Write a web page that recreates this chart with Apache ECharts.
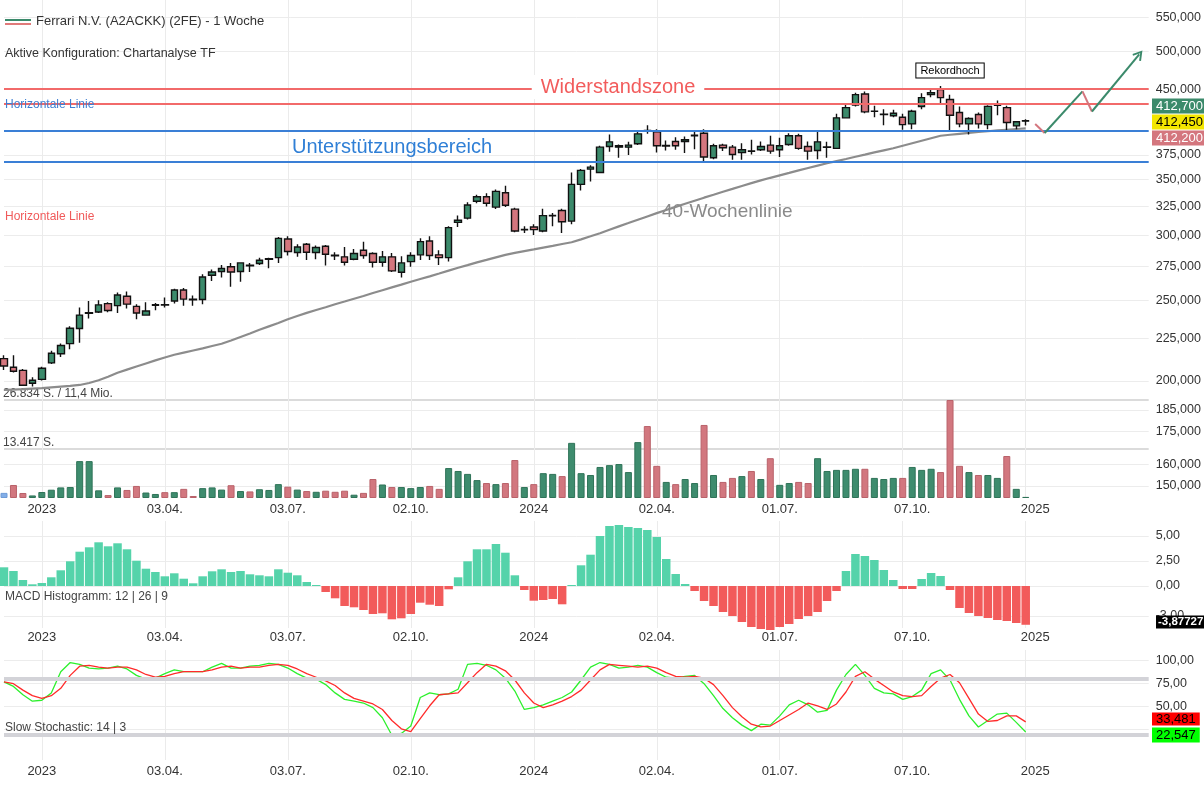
<!DOCTYPE html>
<html><head><meta charset="utf-8">
<script src="https://cdn.jsdelivr.net/npm/echarts@6/dist/echarts.min.js"></script>
<style>html,body{margin:0;padding:0;background:#fff}#c{width:1204px;height:785px}</style>
</head><body><div id="c"></div><script>
const weeks = [
'2022-12-05','2022-12-12','2022-12-19','2022-12-26',
'2023-01-02','2023-01-09','2023-01-16','2023-01-23','2023-01-30','2023-02-06','2023-02-13','2023-02-20','2023-02-27',
'2023-03-06','2023-03-13','2023-03-20','2023-03-27','2023-04-03','2023-04-10','2023-04-17','2023-04-24','2023-05-01',
'2023-05-08','2023-05-15','2023-05-22','2023-05-29','2023-06-05','2023-06-12','2023-06-19','2023-06-26','2023-07-03',
'2023-07-10','2023-07-17','2023-07-24','2023-07-31','2023-08-07','2023-08-14','2023-08-21','2023-08-28','2023-09-04',
'2023-09-11','2023-09-18','2023-09-25','2023-10-02','2023-10-09','2023-10-16','2023-10-23','2023-10-30','2023-11-06',
'2023-11-13','2023-11-20','2023-11-27','2023-12-04','2023-12-11','2023-12-18','2023-12-25',
'2024-01-01','2024-01-08','2024-01-15','2024-01-22','2024-01-29','2024-02-05','2024-02-12','2024-02-19','2024-02-26',
'2024-03-04','2024-03-11','2024-03-18','2024-03-25','2024-04-01','2024-04-08','2024-04-15','2024-04-22','2024-04-29',
'2024-05-06','2024-05-13','2024-05-20','2024-05-27','2024-06-03','2024-06-10','2024-06-17','2024-06-24','2024-07-01',
'2024-07-08','2024-07-15','2024-07-22','2024-07-29','2024-08-05','2024-08-12','2024-08-19','2024-08-26','2024-09-02',
'2024-09-09','2024-09-16','2024-09-23','2024-09-30','2024-10-07','2024-10-14','2024-10-21','2024-10-28','2024-11-04',
'2024-11-11','2024-11-18','2024-11-25','2024-12-02','2024-12-09','2024-12-16','2024-12-23','2024-12-30',
'2025-01-06','2025-01-13','2025-01-20','2025-01-27','2025-02-03','2025-02-10','2025-02-17','2025-02-24','2025-03-03',
'2025-03-10','2025-03-17','2025-03-24','2025-03-31'];

const open = [212800,207800,206000,198700,200900,210300,215700,221900,231400,241400,242300,248000,246600,253100,246100,240200,246800,247300,249800,257500,251000,250800,268300,271100,274700,271100,275900,277200,280500,281800,296800,285800,292500,285800,290900,283700,282400,280500,287600,285000,278200,282400,270600,278700,284000,295100,284000,281800,310800,314500,329600,333800,324300,337500,322500,304400,306900,303400,316500,321300,311900,345400,360400,357100,383800,383100,383100,386700,401400,399700,384400,389200,389200,395500,398200,372000,385300,383100,377500,379100,380400,385300,380400,386000,395400,383800,379600,382900,381800,415600,430600,444100,423100,419300,418000,416300,408700,428900,443300,449700,437300,421800,408700,419500,407900,430300,427600,406400,411800];
const high = [214800,214800,206700,202100,208100,217500,221900,232900,245300,249800,250300,248900,255800,256400,247600,248900,248400,252200,258500,259000,253600,269000,272700,276100,277700,278200,277700,281800,281800,298400,299000,292500,293500,291500,291900,286000,290300,288700,294600,286000,287100,285500,282900,286000,297300,299000,287600,307400,316700,328600,335700,337000,340600,344200,323700,307400,309200,322700,319000,322700,357100,360400,364400,384600,396700,386000,388800,399700,407200,402600,390300,393900,394700,400000,402600,386700,386700,385300,387400,391100,389200,395400,393200,398200,397500,389200,399700,388800,420300,433200,445700,447300,429800,425800,425000,420300,425000,444900,449000,454000,443300,428900,416300,421800,430500,436000,429800,411900,414000];
const low = [206200,204700,197200,196900,200200,209600,213800,218500,222500,237900,241600,242100,241600,244700,237400,239800,243500,245300,248000,246600,246600,247600,264100,266600,259800,263600,270800,276100,273600,277700,283500,282400,280000,280500,275700,280000,275700,279700,281000,274200,274700,270800,266600,274700,280000,280000,276100,278700,306900,313200,327800,324800,322500,324300,302300,301700,300000,302300,307400,301700,309200,339700,348300,356500,378200,372000,374700,385300,397500,377500,379600,380400,376800,381000,368300,370500,378900,369900,369900,375400,378900,376100,372700,384600,380400,369900,370500,372000,381100,414800,428900,421000,416300,407200,416300,402000,402600,425800,440100,432900,401200,404900,396700,403400,402600,418600,399700,402600,407000];
const close = [208500,205500,197600,200400,207200,216000,220700,231600,240200,241800,247100,243300,254000,247600,241600,242900,247200,247000,257500,251100,250600,267000,270800,273400,270800,277700,275500,279700,280900,297300,286600,290300,286000,289800,284400,283300,278200,285000,283500,278200,282400,271600,277700,283500,294600,283500,281800,306300,312600,326200,333800,327800,338800,326000,303400,304800,304600,316700,316900,311400,345400,359100,362400,383100,388800,384600,385300,397500,401000,384600,384800,384600,391100,395900,372700,384600,382500,375400,380400,378700,383800,378900,384600,395400,381800,378900,388800,383300,415600,427600,443300,422600,423500,419700,421000,407900,423300,439700,445700,439700,418600,408700,414800,408700,429100,430700,410200,411100,412450];
const sma40 = [195100,195300,195500,195800,196100,196500,196900,197300,197800,198900,200400,202400,204600,206400,208200,210000,211800,213500,215100,216400,217700,219000,220400,221800,223800,226000,228200,230600,232800,235000,237400,239600,241700,243600,245500,247500,249400,251400,253300,255400,257400,259400,261400,263500,265500,267500,269600,271800,274000,276000,278100,280000,282000,284000,285500,286900,288300,289800,291200,292700,294100,296500,299000,301600,304500,307400,310200,313100,316000,318900,321700,324500,327300,330100,332900,335600,338400,341100,343900,346600,349300,351800,354200,356600,359100,361500,363900,366300,368500,370700,373000,375200,377500,379700,381900,384600,387300,390000,392700,395400,396500,397600,398700,399600,400400,401300,402100,402900,403600];
const volume = [1400,3560,1370,700,1640,2270,2900,3000,10100,10100,2100,800,2900,2200,3300,1500,1100,1600,1600,2500,550,2700,2900,2300,3500,1900,1800,2400,2200,3800,3100,2300,1900,1700,2000,1700,2000,900,1400,5200,3700,3000,3000,2700,3000,3300,2500,8200,7400,6600,4900,4100,3800,4100,10400,3000,3800,6800,6600,6000,15100,6800,6300,8500,9000,9300,7100,15300,19700,8800,4400,3800,5200,4100,20000,6300,4400,5500,6000,7400,5200,10900,3600,4100,4400,4100,10900,7400,7700,7700,8000,8000,5500,5200,5500,5500,8500,7700,8000,7100,26834,8800,7100,6300,6300,5500,11500,2500,300];
const macdHist = [1.87,1.5,0.6,0.17,0.3,0.87,1.57,2.47,3.43,3.87,4.37,3.97,4.27,3.67,2.53,1.73,1.4,0.97,1.27,0.73,0.27,0.97,1.47,1.67,1.4,1.5,1.17,1.07,0.97,1.67,1.33,1.07,0.4,0.1,-0.6,-1.23,-2.0,-2.13,-2.4,-2.8,-2.73,-3.33,-3.23,-2.8,-1.67,-1.87,-2.0,-0.33,0.87,2.47,3.67,3.67,4.2,3.33,1.07,-0.4,-1.47,-1.4,-1.3,-1.83,0.1,2.07,3.13,5.0,6.0,6.1,5.9,5.8,5.6,4.9,2.7,1.2,0.2,-0.5,-1.5,-2.0,-2.6,-3.0,-3.6,-4.1,-4.3,-4.4,-4.1,-3.8,-3.3,-3.0,-2.6,-1.5,-0.5,1.5,3.2,3.0,2.6,1.6,0.6,-0.3,-0.3,0.7,1.3,1.0,-0.4,-2.2,-2.7,-3.0,-3.2,-3.4,-3.5,-3.7,-3.87727];
const stochK = [77,72,63,56,57,65,88,98,96,92,91,92,94,91,84,80,81,86,90,88,88,88,93,97,92,92,94,95,97,96,92,86,81,80,74,65,58,56,54,49,38,19,21,29,60,65,63,64,69,96,97,95,90,81,67,47,49,52,56,60,66,79,93,98,96,92,93,95,93,87,82,81,83,84,75,62,48,38,30,24,31,30,40,52,57,52,44,46,68,85,96,84,70,65,64,58,61,68,86,90,79,58,40,28,35,42,43,33,22.547];
const stochD = [77,75,68,62,59,62,70,84,94,95,93,92,93,93,90,85,82,83,86,88,88,88,90,93,94,92,93,93,95,96,95,91,86,82,78,73,65,59,56,53,47,35,26,23,37,51,63,64,65,76,87,96,94,89,79,65,54,49,52,56,61,68,79,90,96,95,94,93,94,92,87,83,82,83,81,74,62,49,39,31,28,29,35,41,47,54,51,47,53,66,83,88,80,73,66,62,61,62,72,81,85,76,59,42,34,35,40,40,33.481];

const priceTicks = [200000,225000,250000,275000,300000,325000,350000,375000,450000,500000,550000];
const volTicks = [13417, 26834];
const volScaleTicks = [150000,160000,175000,185000];
const macdTicks = [-3, 0, 2.5, 5];
const stochTicks = [25, 50, 75, 100];
const stochLevels = [80, 20];
const gridWeeks = ['2023-01-02','2023-04-03','2023-07-03','2023-10-02','2024-01-01','2024-04-01','2024-07-01','2024-09-30','2024-12-30'];
const dateLabels = {'2023-01-02':'2023','2023-04-03':'03.04.','2023-07-03':'03.07.','2023-10-02':'02.10.','2024-01-01':'2024','2024-04-01':'02.04.','2024-07-01':'01.07.','2024-10-07':'07.10.','2025-01-06':'2025'};
const resistance = [450000, 432000];
const support = [401500, 367500];
const forecast = [['2025-01-06',408500],['2025-01-13',398500],['2025-02-10',447400],['2025-02-17',423000],['2025-03-24',495700]];
const recordWeek = '2024-11-04', recordHigh = 454000;

const GREEN = '#3b8a6b', PINK = '#d4767e', BLUE_V = '#82aee8';
const FONT = '"Liberation Sans", Arial, Helvetica, sans-serif';
const GL = 4, GW = 1144.7;

const candleData = open.map((o, i) => [o, close[i], low[i], high[i]]);
const volData = volume.map((v, i) => ({value: v, itemStyle: {
  color: i === 0 ? BLUE_V : (close[i] >= open[i] ? '#3e8c6e' : '#d2777f'),
  borderColor: i === 0 ? '#6f9bd6' : (close[i] >= open[i] ? '#2f7358' : '#b9626a'), borderWidth: 1}}));
const macdData = macdHist.map(v => ({value: v, itemStyle: {color: v >= 0 ? '#55d3aa' : '#f25b5b'}}));

function xAxis(gi, showLabel, margin) {
  return {type: 'category', gridIndex: gi, data: weeks, boundaryGap: false,
    axisLine: {show: false}, axisTick: {show: false},
    axisLabel: {show: showLabel, interval: (i, v) => v in dateLabels, formatter: v => dateLabels[v] || '',
      color: '#333', fontSize: 13, margin: margin, fontFamily: FONT},
    splitLine: {show: true, interval: (i, v) => gridWeeks.indexOf(v) >= 0, lineStyle: {color: '#ebebeb', width: 1}}};
}
const fmtInt = v => Math.round(v).toLocaleString('en-US');
const fmtDec = v => (Math.round(v * 100) / 100).toFixed(2).replace('.', ',');
function yAxis(gi, min, max, ticks, fmt, extra) {
  return Object.assign({type: 'value', gridIndex: gi, position: 'right', min, max,
    axisLine: {show: false}, axisTick: {show: false, customValues: ticks},
    axisLabel: {customValues: ticks, formatter: fmt, color: '#333', fontSize: 12.5, margin: 7, fontFamily: FONT},
    splitLine: {show: true, lineStyle: {color: '#ececec', width: 1}}}, extra || {});
}
const chevron = 'path://M5,0L10,9L8.6,10.2L5,3.6L1.4,10.2L0,9Z';
const seg = (a, b, color, end) => [
  {coord: a, symbol: 'none', lineStyle: {color, width: 2, type: 'solid'}},
  {coord: b, symbol: end ? chevron : 'none', symbolSize: [11, 10], lineStyle: {color, width: 2, type: 'solid'}}];

const grids = [
  {left: GL, width: GW, top: 0, height: 400},
  {left: GL, width: GW, top: 400, height: 98},
  {left: GL, width: GW, top: 521, height: 107},
  {left: GL, width: GW, top: 650, height: 110}
].map(g => Object.assign(g, {containLabel: false, outerBoundsMode: 'none'}));

const T = (x, y, text, st) => ({type: 'text', x, y, z: 100, silent: true,
  style: Object.assign({text, fill: '#333', fontSize: 13, fontFamily: FONT, verticalAlign: 'middle', align: 'left'}, st || {})});

const option = {
  animation: false,
  backgroundColor: '#fff',
  textStyle: {fontFamily: FONT},
  grid: grids,
  xAxis: [xAxis(0, false, 0), xAxis(1, true, 5), xAxis(2, true, 3), xAxis(3, true, 5)],
  yAxis: [
    yAxis(0, 189700, 576700, priceTicks, fmtInt, {type: 'log', logBase: 10}),
    {type: 'value', gridIndex: 1, position: 'left', min: 0, max: 26834,
      axisLine: {show: false}, axisTick: {show: false, customValues: volTicks},
      axisLabel: {customValues: volTicks, inside: true, verticalAlign: 'bottom', margin: -1, color: '#444', fontSize: 12, fontFamily: FONT,
        formatter: v => v > 20000 ? '26.834 S. / 11,4 Mio.' : '13.417 S.'},
      splitLine: {show: true, lineStyle: {color: '#cfcfcf', width: 1.5}}},
    yAxis(1, 144474, 189605, volScaleTicks, fmtInt),
    yAxis(2, -4.2, 6.5, macdTicks, fmtDec),
    yAxis(3, -7.9, 111.6, stochTicks, v => v === 25 ? '' : fmtDec(v))
  ],
  series: [
    {type: 'line', name: '40-Wochenlinie', xAxisIndex: 0, yAxisIndex: 0, data: sma40, symbol: 'none', silent: true,
      lineStyle: {color: '#8c8c8c', width: 2.2}, z: 2},
    {type: 'candlestick', name: 'Ferrari N.V.', xAxisIndex: 0, yAxisIndex: 0, data: candleData, barWidth: 7, clip: false, z: 3,
      itemStyle: {color: GREEN, color0: PINK, borderColor: '#111', borderColor0: '#111', borderWidth: 1.4},
      markLine: {silent: true, symbol: ['none', 'none'], label: {show: false},
        data: [
          {yAxis: resistance[0], lineStyle: {color: '#f26a6a', width: 2, type: 'solid'}},
          {yAxis: resistance[1], lineStyle: {color: '#f26a6a', width: 2, type: 'solid'}},
          {yAxis: support[0], lineStyle: {color: '#3a7fd6', width: 2, type: 'solid'}},
          {yAxis: support[1], lineStyle: {color: '#3a7fd6', width: 2, type: 'solid'}},
          seg(forecast[0], forecast[1], '#d4767e'),
          seg(forecast[1], forecast[2], '#3b8a6b'),
          seg(forecast[2], forecast[3], '#d4767e'),
          seg(forecast[3], forecast[4], '#3b8a6b', true)
        ]},
      markPoint: {silent: true, symbol: 'rect', symbolSize: 1, itemStyle: {color: 'rgba(0,0,0,0)'},
        label: {show: true, position: 'top', distance: 8, formatter: 'Rekordhoch', color: '#000', fontSize: 11, fontFamily: FONT,
          backgroundColor: '#fff', borderColor: '#000', borderWidth: 1, padding: [2, 4, 1, 4]},
        data: [{coord: [recordWeek, recordHigh]}]}},
    {type: 'bar', name: 'Volumen', xAxisIndex: 1, yAxisIndex: 1, data: volData, barWidth: 7, clip: false, silent: true},
    {type: 'bar', name: 'MACD Histogramm', xAxisIndex: 2, yAxisIndex: 3, data: macdData, barWidth: 8.5, clip: false, silent: true},
    {type: 'line', xAxisIndex: 3, yAxisIndex: 4, data: [], silent: true, z: 1,
      markLine: {silent: true, symbol: ['none', 'none'], label: {show: false},
        data: stochLevels.map(v => ({yAxis: v, lineStyle: {color: '#d3d3d8', width: 4, type: 'solid'}}))}},
    {type: 'line', name: '%K', xAxisIndex: 3, yAxisIndex: 4, data: stochK, symbol: 'none', silent: true, z: 2,
      lineStyle: {color: '#2cf02c', width: 1.3}},
    {type: 'line', name: '%D', xAxisIndex: 3, yAxisIndex: 4, data: stochD, symbol: 'none', silent: true, z: 3,
      lineStyle: {color: '#ff2a2a', width: 1.3}}
  ],
  graphic: [
    {type: 'line', z: 100, silent: true, shape: {x1: 5, y1: 20, x2: 31, y2: 20}, style: {stroke: '#3b8a6b', lineWidth: 2}},
    {type: 'line', z: 100, silent: true, shape: {x1: 5, y1: 24, x2: 31, y2: 24}, style: {stroke: '#e07a7a', lineWidth: 2}},
    T(36, 21, 'Ferrari N.V. (A2ACKK) (2FE) - 1 Woche', {fontSize: 13}),
    T(5, 54, 'Aktive Konfiguration: Chartanalyse TF', {fontSize: 12.5}),
    T(5, 105, 'Horizontale Linie', {fontSize: 12, fill: '#3f7fd2'}),
    T(5, 217, 'Horizontale Linie', {fontSize: 12, fill: '#f05a5a'}),
    T(618, 87, 'Widerstandszone', {fontSize: 20, fill: '#f25c5c', align: 'center', backgroundColor: '#fff', padding: [2, 9, 2, 9]}),
    T(292, 147, 'Unterstützungsbereich', {fontSize: 20, fill: '#2f7fd6'}),
    T(662, 212, '40-Wochenlinie', {fontSize: 19, fill: '#8a8a8a'}),
    T(5, 597, 'MACD Histogramm: 12 | 26 | 9', {fontSize: 12, fill: '#444'}),
    T(5, 728, 'Slow Stochastic: 14 | 3', {fontSize: 12, fill: '#444'}),
    T(1152, 106, '412,700', {fill: '#fff', backgroundColor: '#3b8a6b', padding: [1, 3, 1, 4]}),
    T(1152, 122, '412,450', {fill: '#000', backgroundColor: '#f3e600', padding: [1, 3, 1, 4]}),
    T(1152, 138, '412,200', {fill: '#fff', backgroundColor: '#d4767e', padding: [1, 3, 1, 4]}),
    T(1156, 622, '-3,87727', {fill: '#fff', backgroundColor: '#000', fontSize: 11.5, fontWeight: 'bold', padding: [1, 2, 0, 2]}),
    T(1152, 719, '33,481', {fill: '#000', backgroundColor: '#ff0000', fontSize: 13, padding: [0, 4, 0, 4]}),
    T(1152, 735, '22,547', {fill: '#000', backgroundColor: '#00ff00', fontSize: 13, padding: [1, 4, 1, 4]})
  ]
};
const chart = echarts.init(document.getElementById('c'), null, {renderer: 'canvas'});
chart.setOption(option);
</script></body></html>
